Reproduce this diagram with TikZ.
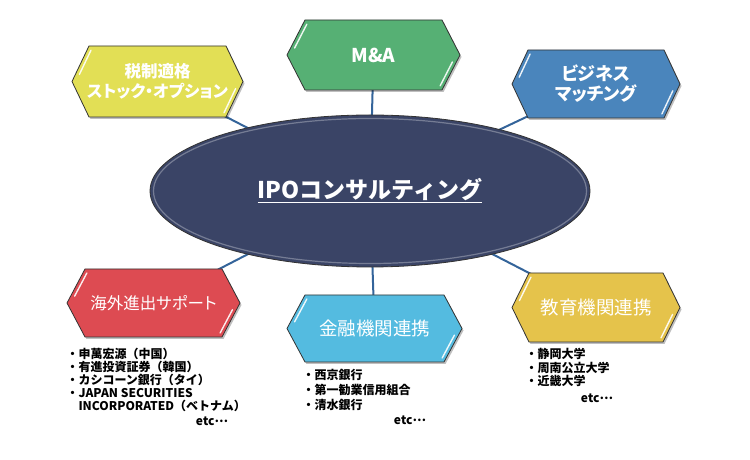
\documentclass[tikz,border=0pt]{standalone}
\usepackage{fontspec}
\setmainfont{Noto Sans CJK JP}
\usetikzlibrary{calc,shapes.geometric}
\pgfdeclarelayer{bg}\pgfdeclarelayer{mid}
\pgfsetlayers{bg,mid,main}
\definecolor{hyel}{HTML}{E2DF55}
\definecolor{hgrn}{HTML}{56B074}
\definecolor{hblu}{HTML}{4A85BC}
\definecolor{hred}{HTML}{DD4B52}
\definecolor{hlbl}{HTML}{54BBE0}
\definecolor{hgld}{HTML}{E5C34B}
\definecolor{navy}{HTML}{3A4466}
\definecolor{conncol}{HTML}{34649A}
\newcommand\paltfeat{\addfontfeature{RawFeature=+palt}}
\newcommand\etcdots{etc\raisebox{3.2pt}{…}}
\newcommand\hexdraw[3]{%
  \begin{pgfonlayer}{mid}
    \coordinate (#1-nw) at ($(#1.north west)+(#3,0)$);
    \coordinate (#1-ne) at ($(#1.north east)+(-#3,0)$);
    \coordinate (#1-se) at ($(#1.south east)+(-#3,0)$);
    \coordinate (#1-sw) at ($(#1.south west)+(#3,0)$);
    \fill[black,opacity=.25,transform canvas={shift={(1.5,-2)}}] (#1.west) -- (#1-nw) -- (#1-ne) -- (#1.east) -- (#1-se) -- (#1-sw) -- cycle;
    \filldraw[fill=#2,draw=black!80,line width=0.8pt] (#1.west) -- (#1-nw) -- (#1-ne) -- (#1.east) -- (#1-se) -- (#1-sw) -- cycle;
    \draw[hilite] ($(#1.west)!.2!(#1-nw)+(4,0)$) -- ($(#1.west)!.88!(#1-nw)+(4,0)$);
    \draw[hilite] ($(#1.east)!.2!(#1-se)+(-4,0)$) -- ($(#1.east)!.88!(#1-se)+(-4,0)$);
  \end{pgfonlayer}}
\begin{document}
\begin{tikzpicture}[x=1pt,y=1pt,
  hexnode/.style={inner sep=0pt,outer sep=0pt,text=white,align=center},
  hilite/.style={white,line width=1.4pt,line cap=round,opacity=.9},
  conn/.style={conncol,line width=2pt},
  listtext/.style={anchor=north west,inner sep=0pt,outer sep=0pt,align=left,font=\bfseries\fontsize{12}{12.8}\selectfont},
  etctext/.style={inner sep=0pt,font=\bfseries\fontsize{12}{13}\selectfont}]
\useasboundingbox (0,0) rectangle (750,460);
\begin{pgfonlayer}{bg}
  \fill[white] (0,0) rectangle (750,460);
\end{pgfonlayer}

\node[ellipse,fill=navy,draw=black!80,line width=0.8pt,minimum width=440pt,minimum height=152pt,inner sep=0pt,text=white,font=\bfseries\fontsize{23}{26}\selectfont] (ipo) at (370,269) {\underline{IPOコンサルティング}};
\draw[white,opacity=.3,line width=1.2pt] (ipo.center) ellipse [x radius=216.5, y radius=72.5];

\node[hexnode,minimum width=171pt,minimum height=71pt,font=\bfseries\fontsize{16.5}{20}\selectfont\paltfeat] (zei) at (157.5,378.5) {税制適格\\ストック・オプション};
\node[hexnode,minimum width=173pt,minimum height=70pt,font=\bfseries\fontsize{19}{22}\selectfont] (ma) at (373.5,405) {M\&A};
\node[hexnode,minimum width=168pt,minimum height=68pt,font=\bfseries\fontsize{18}{20}\selectfont\paltfeat] (biz) at (596,376) {ビジネス\\マッチング};
\node[hexnode,minimum width=173pt,minimum height=68pt,font=\fontsize{16.5}{19}\selectfont\paltfeat] (kai) at (153.5,157) {海外進出サポート};
\node[hexnode,minimum width=175pt,minimum height=67pt,font=\fontsize{18.5}{21}\selectfont] (kin) at (374.5,131.5) {金融機関連携};
\node[hexnode,minimum width=168pt,minimum height=69pt,font=\fontsize{18.5}{21}\selectfont] (kyo) at (596,152.5) {教育機関連携};

\hexdraw{zei}{hyel}{17}
\hexdraw{ma}{hgrn}{18}
\hexdraw{biz}{hblu}{16}
\hexdraw{kai}{hred}{18}
\hexdraw{kin}{hlbl}{18}
\hexdraw{kyo}{hgld}{17}

\begin{pgfonlayer}{bg}
  \draw[conn] (ipo.center) -- (zei.center);
  \draw[conn] (ipo.center) -- (ma.center);
  \draw[conn] (ipo.center) -- (biz.center);
  \draw[conn] (ipo.center) -- (kai.center);
  \draw[conn] (ipo.center) -- (kin.center);
  \draw[conn] (ipo.center) -- (kyo.center);
\end{pgfonlayer}

\node[listtext] (list1) at (66.5,111.5) {・申萬宏源（中国）\\・有進投資証券（韓国）\\・カシコーン銀行（タイ）\\・JAPAN SECURITIES\\\phantom{・}INCORPORATED（ベトナム）};
\node[etctext] (etc1) at (212,38.5) {\etcdots};
\node[listtext,font=\bfseries\fontsize{12}{15}\selectfont] (list2) at (302.5,91) {・西京銀行\\・第一勧業信用組合\\・清水銀行};
\node[etctext] (etc2) at (410,39.5) {\etcdots};
\node[listtext,font=\bfseries\fontsize{12}{13.5}\selectfont] (list3) at (525.5,111.5) {・静岡大学\\・周南公立大学\\・近畿大学};
\node[etctext] (etc3) at (597,61.5) {\etcdots};
\end{tikzpicture}
\end{document}
